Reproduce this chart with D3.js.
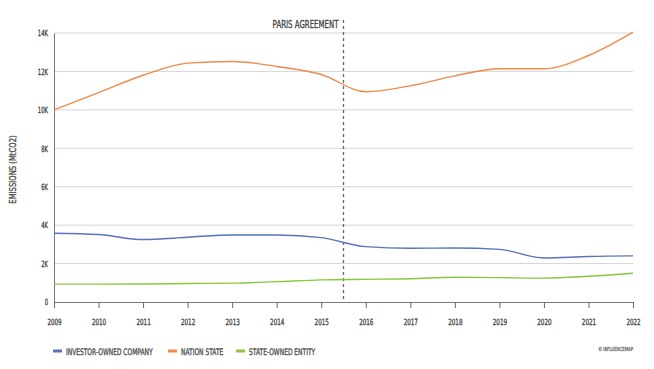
<!DOCTYPE html>
<html><head><meta charset="utf-8">
<script src="https://cdn.jsdelivr.net/npm/d3@7"></script>
<style>
body{margin:0;background:#fff;}
text{font-family:"DejaVu Sans",sans-serif;fill:#444;}
</style></head>
<body><svg id="c" width="654" height="369"></svg>
<script>
const years = [2009,2010,2011,2012,2013,2014,2015,2016,2017,2018,2019,2020,2021,2022];
const investorOwned = [3580,3510,3250,3370,3490,3490,3350,2880,2800,2810,2740,2290,2370,2400];
const nationState = [10000,10900,11800,12430,12520,12260,11840,10940,11250,11770,12140,12140,12830,14050];
const stateOwned = [930,930,940,960,980,1060,1150,1180,1210,1290,1270,1240,1340,1500];
const yTicks = [0,2000,4000,6000,8000,10000,12000,14000];
const yTickLabels = ["0","2K","4K","6K","8K","10K","12K","14K"];
const seriesNames = ["INVESTOR-OWNED COMPANY","NATION STATE","STATE-OWNED ENTITY"];
const seriesColors = ["#5a72bf","#f08a4b","#8cc63f"];
const parisYear = 2015.5;

const svg = d3.select("#c");
const L=54, R=633, T=33, B=302;
const x = d3.scaleLinear().domain([2009,2022]).range([L,R]);
const y = d3.scaleLinear().domain([0,14000]).range([B,T]);
const FONT = '"DejaVu Sans",sans-serif';

function condense(sel, f, extra){
  sel.each(function(){
    const t = d3.select(this);
    const tx = +(t.attr("x")||0), ty = +(t.attr("y")||0);
    t.attr("x",null).attr("y",null)
     .attr("transform",`translate(${tx},${ty}) ${extra||""} scale(${f},1)`);
  });
}
function styleText(sel, size, col){
  sel.attr("font-size",size).style("font-family",FONT).attr("fill",col||"#4a4a4a")
     .attr("stroke",col||"#4a4a4a").attr("stroke-width",0.35);
}

// gridlines
svg.append("g").selectAll("line").data(yTicks.filter(d=>d>0)).join("line")
  .attr("x1",L).attr("x2",R).attr("y1",d=>y(d)).attr("y2",d=>y(d))
  .attr("stroke","#d6d6d6").attr("stroke-width",1);

// y axis
const ya = svg.append("g").attr("transform",`translate(${L},0)`)
  .call(d3.axisLeft(y).tickValues(yTicks).tickFormat((d,i)=>yTickLabels[i]).tickSize(0).tickPadding(6));
ya.select(".domain").attr("stroke","#777");
styleText(ya.selectAll("text"),8.5);
condense(ya.selectAll("text"),0.62);

// x axis
const xa = svg.append("g").attr("transform",`translate(0,${B})`)
  .call(d3.axisBottom(x).tickValues(years).tickFormat(d3.format("d")).tickSize(6).tickSizeOuter(0).tickPadding(11));
xa.select(".domain").attr("stroke","#777");
xa.selectAll("line").attr("stroke","#666");
styleText(xa.selectAll("text"),8.5);
condense(xa.selectAll("text"),0.66);

// y label
const yl = svg.append("text").attr("x",16).attr("y",(T+B)/2+2)
  .attr("text-anchor","middle").text("EMISSIONS (MtCO2)");
styleText(yl,9.5);
condense(yl,0.72,"rotate(-90)");

// paris line
svg.append("line").attr("x1",x(parisYear)).attr("x2",x(parisYear)).attr("y1",20).attr("y2",B)
  .attr("stroke","#666").attr("stroke-width",1.3).attr("stroke-dasharray","3,3");
const pa = svg.append("text").attr("x",x(parisYear)-5).attr("y",28).attr("text-anchor","end").text("PARIS AGREEMENT");
styleText(pa,10);
condense(pa,0.7);

// lines
const line = d3.line().x((d,i)=>x(years[i])).y(d=>y(d)).curve(d3.curveMonotoneX);
[investorOwned,nationState,stateOwned].forEach((s,k)=>{
  svg.append("path").datum(s).attr("d",line).attr("fill","none")
    .attr("stroke",seriesColors[k]).attr("stroke-width",1.4);
});

// legend
const legX=[53,168,236];
seriesNames.forEach((n,k)=>{
  svg.append("rect").attr("x",legX[k]).attr("y",349.5).attr("width",9).attr("height",3).attr("fill",seriesColors[k]);
  const t = svg.append("text").attr("x",legX[k]+13).attr("y",354.5).text(n);
  styleText(t,9,"#555");
  condense(t,0.66);
});
const cp = svg.append("text").attr("x",R).attr("y",351).attr("text-anchor","end").text("© INFLUENCEMAP");
styleText(cp,5.5,"#888");
condense(cp,0.7);
</script></body></html>
